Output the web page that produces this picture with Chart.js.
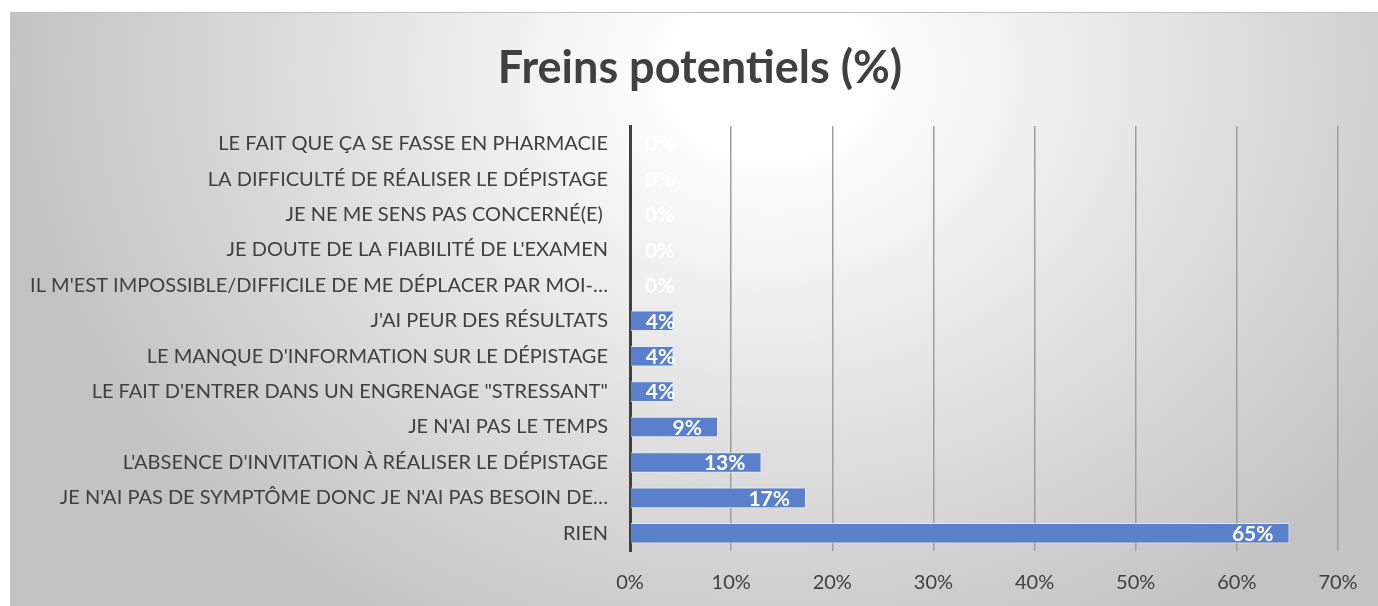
<!DOCTYPE html>
<html>
<head>
<meta charset="utf-8">
<script src="https://cdn.jsdelivr.net/npm/chart.js@4"></script>
<style>
    html, body { margin: 0; padding: 0; background: #fff; }
    #frame {
        position: absolute;
        left: 10px;
        top: 12px;
        width: 1368px;
        height: 594px;
        border-top: 1px solid #c0c0c0;
        background: radial-gradient(ellipse 760px 640px at 760px 60px, #ffffff 12%, #c3c3c3 100%);
    }
</style>
</head>
<body>
<div id="frame"><canvas id="chart" width="1368" height="594"></canvas></div>
<script>
// categories, top to bottom as shown
const categories = [
    "LE FAIT QUE ÇA SE FASSE EN PHARMACIE",
    "LA DIFFICULTÉ DE RÉALISER LE DÉPISTAGE",
    "JE NE ME SENS PAS CONCERNÉ(E) ",
    "JE DOUTE DE LA FIABILITÉ DE L'EXAMEN",
    "IL M'EST IMPOSSIBLE/DIFFICILE DE ME DÉPLACER PAR MOI-…",
    "J'AI PEUR DES RÉSULTATS",
    "LE MANQUE D'INFORMATION SUR LE DÉPISTAGE",
    "LE FAIT D'ENTRER DANS UN ENGRENAGE \"STRESSANT\"",
    "JE N'AI PAS LE TEMPS",
    "L'ABSENCE D'INVITATION À RÉALISER LE DÉPISTAGE",
    "JE N'AI PAS DE SYMPTÔME DONC JE N'AI PAS BESOIN DE…",
    "RIEN"
];
const percentValues = [0, 0, 0, 0, 0, 4.3, 4.3, 4.3, 8.7, 13.0, 17.4, 65.2];
const axisTicks = [0, 10, 20, 30, 40, 50, 60, 70];

const FONT = "Lato, 'Open Sans', sans-serif";

// white value labels at the inner end of each bar
const valueLabels = {
    id: 'valueLabels',
    afterLayout(chart) {
        // nudge the title a little to the right, like the original
        if (chart.titleBlock) {
            chart.titleBlock.left += 26;
            chart.titleBlock.right += 26;
        }
    },
    afterDatasetsDraw(chart) {
        const ctx = chart.ctx;
        const meta = chart.getDatasetMeta(0);
        ctx.save();
        ctx.font = "bold 21px " + FONT;
        ctx.fillStyle = '#ffffff';
        ctx.textBaseline = 'middle';
        meta.data.forEach((bar, i) => {
            const txt = Math.round(percentValues[i]) + '%';
            const w = ctx.measureText(txt).width;
            let x = bar.x - 16 - w;
            if (x < bar.base + 15) {
                x = bar.base + 15;
            }
            ctx.fillText(txt, x, bar.y + 1);
        });
        ctx.restore();
    }
};

new Chart(document.getElementById('chart'), {
    type: 'bar',
    data: {
        labels: categories,
        datasets: [{
            data: percentValues,
            backgroundColor: '#5a7fcb',
            borderColor: 'rgba(225,235,250,0.9)',
            borderWidth: 1,
            categoryPercentage: 1,
            barPercentage: 0.58
        }]
    },
    options: {
        indexAxis: 'y',
        responsive: false,
        animation: false,
        layout: { padding: { top: 0, right: 40, bottom: 0, left: 0 } },
        plugins: {
            legend: { display: false },
            tooltip: { enabled: false },
            title: {
                display: true,
                text: 'Freins potentiels (%)',
                color: '#404040',
                font: { family: FONT, size: 45, weight: 'bold', lineHeight: 1.2 },
                padding: { top: 28, bottom: 31 }
            }
        },
        scales: {
            x: {
                min: 0,
                max: 70,
                afterBuildTicks(scale) {
                    scale.ticks = axisTicks.map(v => ({ value: v }));
                },
                afterFit(scale) {
                    scale.height = 56;
                },
                grid: { color: '#9e9e9e', lineWidth: 1.5, drawTicks: false },
                border: { display: false },
                ticks: {
                    padding: 20,
                    color: '#404040',
                    font: { family: FONT, size: 20 },
                    callback: v => v + '%'
                }
            },
            y: {
                afterFit(scale) {
                    scale.width = 620;
                },
                grid: { display: false, drawTicks: false },
                border: { display: true, color: '#404040', width: 3 },
                ticks: {
                    padding: 22,
                    color: '#404040',
                    font: { family: FONT, size: 20 }
                }
            }
        }
    },
    plugins: [valueLabels]
});
</script>
</body>
</html>
